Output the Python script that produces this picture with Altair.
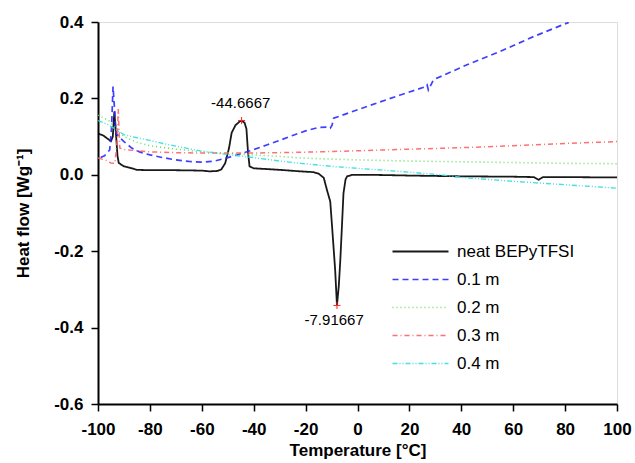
import altair as alt
import pandas as pd

# ---- data ----
series_names = ["neat BEPyTFSI", "0.1 m", "0.2 m", "0.3 m", "0.4 m"]

neat_T = [-100, -98, -96, -95, -94.3, -93.7, -93.2, -92.5, -92, -90, -88, -85, -80, -70, -60, -57, -54,
          -52.5, -51, -49.5, -48.5, -47, -45.5, -44.67, -43.5, -42.8, -42.2, -41.6, -40, -30, -22, -17,
          -15, -13, -11.8, -10.5, -9.8, -8.6, -7.92, -7.2, -6.6, -6, -5.4, -4.6, -4, -2, 5, 20, 40, 60,
          68, 69.8, 71.5, 80, 100]
neat_y = [0.108, 0.103, 0.093, 0.088, 0.10, 0.165, 0.12, 0.05, 0.031, 0.022, 0.019, 0.013, 0.012, 0.012,
          0.011, 0.009, 0.010, 0.014, 0.03, 0.07, 0.11, 0.13, 0.139, 0.142, 0.136, 0.12, 0.06, 0.022,
          0.017, 0.013, 0.009, 0.007, 0.003, -0.008, -0.039, -0.07, -0.135, -0.25, -0.342, -0.29,
          -0.22, -0.135, -0.048, -0.012, -0.004, 0.0, 0.0, -0.002, -0.004, -0.005, -0.006, -0.013,
          -0.006, -0.006, -0.007]

m01_T = [-99, -97.5, -95.5, -94.8, -94.2, -93.6, -93.1, -92, -90, -87, -84, -80, -75, -70, -65, -60,
         -55, -50, -45, -40, -35, -30, -25, -20, -15, -12, -10.5, -9.8, -9.2, 3.7, 16.5, 25.5, 26.8,
         27.3, 29.3, 42.2, 55, 67.9, 81.4]
m01_y = [0.045, 0.05, 0.065, 0.12, 0.231, 0.17, 0.11, 0.1, 0.087, 0.07, 0.06, 0.052, 0.045, 0.039,
         0.035, 0.033, 0.036, 0.045, 0.055, 0.066, 0.078, 0.09, 0.103, 0.115, 0.124, 0.125, 0.122,
         0.13, 0.148, 0.179, 0.209, 0.229, 0.236, 0.222, 0.249, 0.288, 0.323, 0.362, 0.399]

m02_T = [-100, -96, -93, -90, -85, -80, -70, -60, -50, -40, -30, -22, -10, 0, 20, 40, 60, 80, 100]
m02_y = [0.156, 0.143, 0.12, 0.1, 0.085, 0.076, 0.067, 0.06, 0.056, 0.052, 0.048, 0.044, 0.041, 0.039,
         0.036, 0.034, 0.032, 0.030, 0.029]

m03_T = [-100, -97, -95, -93.5, -92.6, -92.2, -91.6, -90, -88, -85, -80, -70, -60, -50, -40, -30, -22,
         -10, 0, 20, 40, 60, 80, 100]
m03_y = [0.044, 0.038, 0.031, 0.03, 0.09, 0.172, 0.07, 0.066, 0.065, 0.063, 0.06, 0.058, 0.057, 0.057,
         0.057, 0.058, 0.059, 0.061, 0.063, 0.067, 0.071, 0.076, 0.082, 0.087]

m04_T = [-100, -96, -93, -90, -85, -80, -75, -70, -60, -50, -40, -30, -22, -10, 0, 16, 32, 42, 60, 80, 100]
m04_y = [0.142, 0.131, 0.118, 0.105, 0.097, 0.09, 0.082, 0.075, 0.062, 0.053, 0.045, 0.036, 0.03,
         0.022, 0.017, 0.009, 0.0, -0.008, -0.017, -0.026, -0.035]

peak_T = [-44.6667, -7.91667]
peak_y = [0.142, -0.342]
peak_labels = ["-44.6667", "-7.91667"]
label_T = [-45, -9]
label_y = [0.188, -0.38]

x_ticks = [-100, -90, -80, -70, -60, -50, -40, -30, -20, -10, 0, 10, 20, 30, 40, 50, 60, 70, 80, 90, 100]
y_ticks = [-0.6, -0.5, -0.4, -0.3, -0.2, -0.1, 0.0, 0.1, 0.2, 0.3, 0.4]

colors = ["#000000", "#2a2aff", "#55dd55", "#ff6060", "#33dddd"]
dashes = [[1, 0], [6, 4], [1, 3], [5, 3, 1, 3], [5, 2, 1, 2, 1, 2]]
widths = [1.8, 1.4, 1.3, 1.2, 1.2]

# ---- build table ----
rows = []
for name, Ts, ys in zip(series_names, [neat_T, m01_T, m02_T, m03_T, m04_T],
                        [neat_y, m01_y, m02_y, m03_y, m04_y]):
    for i, (t, v) in enumerate(zip(Ts, ys)):
        rows.append({"series": name, "T": t, "y": v, "order": i})
df = pd.DataFrame(rows)
peaks = pd.DataFrame({"T": peak_T, "y": peak_y})
labels = pd.DataFrame({"T": label_T, "y": label_y, "text": peak_labels})

FONT = "Liberation Sans"
xscale = alt.Scale(domain=[-100, 100], nice=False, zero=False)
yscale = alt.Scale(domain=[-0.6, 0.4], nice=False, zero=False)

x_major = "datum.value % 20 === 0"
y_major = "abs(round(datum.value * 10)) % 2 === 0"

legend_kw = dict(title=None, orient="none", legendX=314, legendY=221,
                 symbolType="M-4,0H4", symbolSize=196, symbolStrokeWidth=1.5,
                 labelFont=FONT, labelFontSize=17, labelColor="black",
                 labelOffset=28, rowPadding=10, padding=0, labelLimit=300)

lines = alt.Chart(df).mark_line(clip=True, opacity=0.9).encode(
    x=alt.X("T:Q", scale=xscale,
            axis=alt.Axis(orient="bottom", values=x_ticks, title="Temperature [°C]",
                          labelExpr=f"{x_major} ? replace(format(datum.value, 'd'), '\u2212', '-') : ''",
                          labelFlush=False, labelOverlap=False,
                          labelFont=FONT, labelFontSize=17, labelFontWeight="bold", labelColor="black",
                          titleFont=FONT, titleFontSize=17, titleFontWeight="bold", titleColor="black",
                          titlePadding=5, domainColor="black", domainWidth=2, tickColor="black",
                          tickWidth=1.5,
                          tickSize={"condition": {"test": x_major, "value": 7}, "value": 4},
                          labelPadding=10, grid=False)),
    y=alt.Y("y:Q", scale=yscale,
            axis=alt.Axis(orient="left", values=y_ticks, title="Heat flow [Wg⁻¹]",
                          labelExpr=f"{y_major} ? replace(format(datum.value, '.1f'), '\u2212', '-') : ''",
                          labelFlush=False, labelOverlap=False,
                          labelFont=FONT, labelFontSize=17, labelFontWeight="bold", labelColor="black",
                          titleFont=FONT, titleFontSize=17, titleFontWeight="bold", titleColor="black",
                          titlePadding=21, domainColor="black", domainWidth=2, tickColor="black",
                          tickWidth=1.5,
                          tickSize={"condition": {"test": y_major, "value": 7}, "value": 4},
                          labelPadding=8, grid=False)),
    color=alt.Color("series:N", scale=alt.Scale(domain=series_names, range=colors),
                    legend=alt.Legend(**legend_kw)),
    strokeDash=alt.StrokeDash("series:N", scale=alt.Scale(domain=series_names, range=dashes),
                              legend=alt.Legend(**legend_kw)),
    strokeWidth=alt.StrokeWidth("series:N", scale=alt.Scale(domain=series_names, range=widths),
                                legend=None),
    order="order:Q",
)

marks = alt.Chart(peaks).mark_point(shape="M-1,0H1M0,-1V1", size=50, color="#ff2222",
                                    strokeWidth=1, filled=False, opacity=1).encode(
    x=alt.X("T:Q", scale=xscale), y=alt.Y("y:Q", scale=yscale))

texts = alt.Chart(labels).mark_text(font=FONT, fontSize=15, color="black", align="center",
                                    baseline="middle").encode(
    x=alt.X("T:Q", scale=xscale), y=alt.Y("y:Q", scale=yscale), text="text:N")

chart = alt.layer(lines, marks, texts).properties(
    width=519, height=382,
    autosize=alt.AutoSizeParams(type="none"),
    padding={"left": 98, "top": 22, "right": 18, "bottom": 59},
).configure_view(stroke="#888888", strokeWidth=1.5).configure(background="white")

chart.save("out.html", embed_options={"renderer": "svg", "actions": False})
